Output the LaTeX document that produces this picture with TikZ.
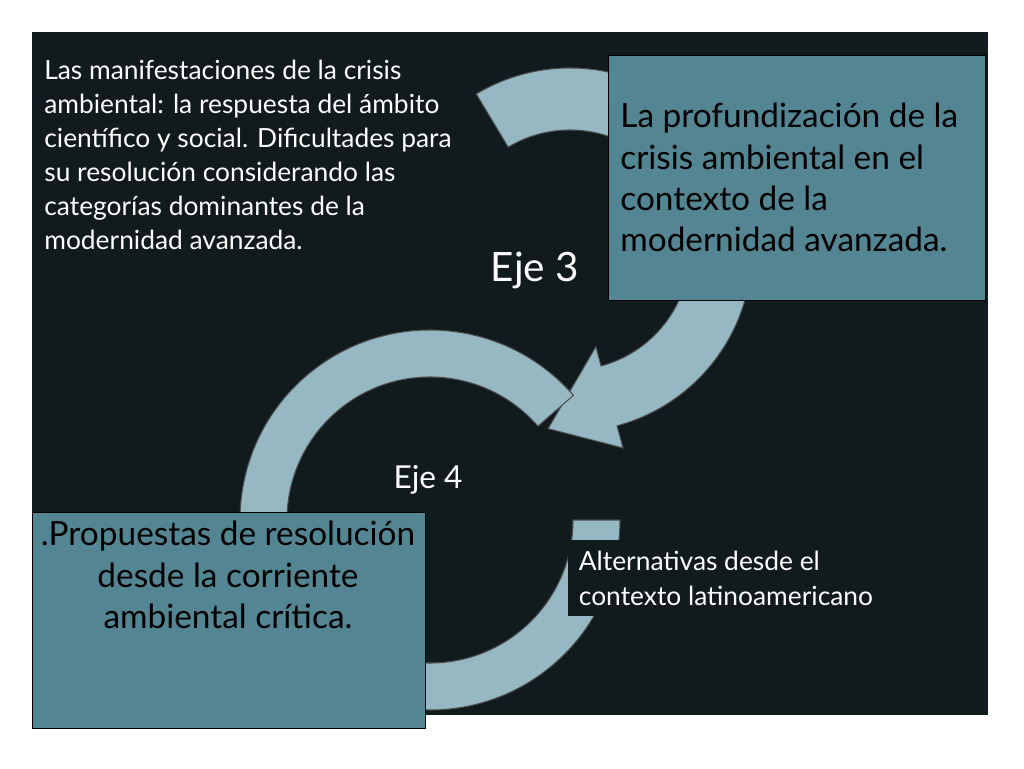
\documentclass[tikz,border=0pt]{standalone}
\usepackage{fontspec}
\setmainfont{Lato}
\usetikzlibrary{calc}
\definecolor{bgdark}{HTML}{111A1D}
\definecolor{ring}{HTML}{95B8C3}
\definecolor{boxfill}{HTML}{548592}
\tikzset{
	ringarc/.style={fill=ring,draw=black!70,line width=0.6pt},
	bluebox/.style={fill=boxfill,draw=black,line width=0.6pt,inner sep=0pt},
	whitetext/.style={text=white,align=left,inner sep=0pt,anchor=north west}
}
\begin{document}
\begin{tikzpicture}[x=0.02cm,y=0.02cm]
	\useasboundingbox (0,0) rectangle (1024,768);
	\fill[white] (0,0) rectangle (1024,768);
	\fill[bgdark] (32,53) rectangle (988,736);

	% upper arrow
	\coordinate (c3) at (570,518);
	\path[ringarc] ($(c3)+(121:182)$) arc[start angle=121,end angle=-75,radius=182]
		-- ($(c3)+(-75:205)$) -- ($(c3)+(-97:180)$) -- ($(c3)+(-75:100)$)
		-- ($(c3)+(-75:120)$) arc[start angle=-75,end angle=121,radius=120] -- cycle;

	% lower ring
	\coordinate (c4) at (430,248);
	\path[ringarc] ($(c4)+(41:190)$) arc[start angle=41,end angle=360,radius=190]
		-- ($(c4)+(0:143)$) arc[start angle=360,end angle=41,radius=143] -- cycle;

	\node[bluebox,minimum width=377*0.02cm,minimum height=245*0.02cm,anchor=north west] (b3) at (608,713) {};
	\node[anchor=north west,align=left,font=\fontsize{19pt}{23.5pt}\selectfont,inner sep=0pt] (t3) at (620,665)
		{La profundización de la\\crisis ambiental en el\\contexto de la\\modernidad avanzada.};

	\node[bluebox,minimum width=393*0.02cm,minimum height=216*0.02cm,anchor=north west] (b4) at (32,256) {};
	\node[anchor=north,align=center,font=\fontsize{19pt}{23.5pt}\selectfont,inner sep=0pt] (t4) at (228,247)
		{.Propuestas de resolución\\desde la corriente\\ambiental crítica.};

	\node[whitetext,font=\fontsize{15pt}{19.3pt}\selectfont] (tl) at (44,708)
		{Las manifestaciones de la crisis\\ambiental: la respuesta del ámbito\\científico y social. Dificultades para\\su resolución considerando las\\categorías dominantes de la\\modernidad avanzada.};

	\node[fill=bgdark,text=white,align=left,anchor=north west,inner sep=6pt,
		font=\fontsize{15pt}{19.8pt}\selectfont] (alt) at (568,228)
		{Alternativas desde el\\contexto latinoamericano};

	\node[text=white,font=\fontsize{23pt}{27pt}\selectfont] (e3) at (535,498) {Eje 3};
	\node[text=white,font=\fontsize{18pt}{22pt}\selectfont] (e4) at (428,288) {Eje 4};
\end{tikzpicture}
\end{document}
